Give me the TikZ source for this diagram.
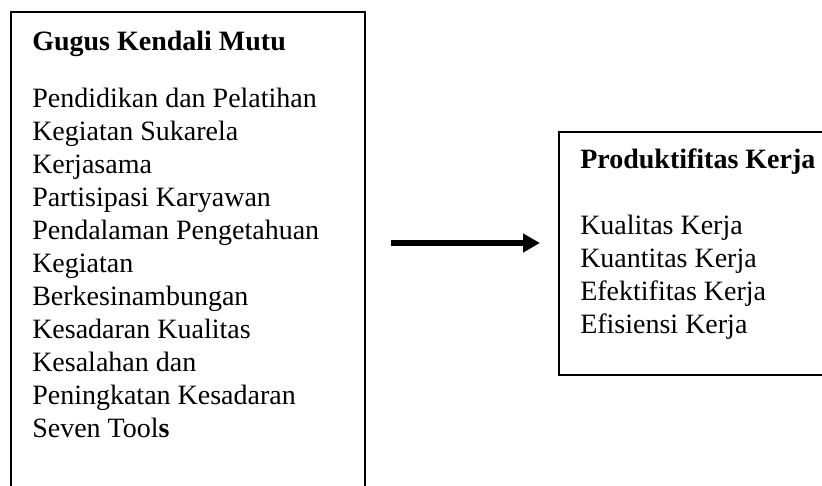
\documentclass[tikz,border=0pt]{standalone}
\usepackage{fontspec}
\setmainfont{Liberation Serif}
\usetikzlibrary{arrows.meta}

\tikzset{
  frameline/.style={line width=1.9pt, black},
  boxtext/.style={anchor=north west, inner sep=0pt, align=left,
    font=\fontsize{21}{24.8}\selectfont},
  flowarrow/.style={line width=4pt, -{Triangle[length=12.75pt, width=13.5pt]}}
}

\begin{document}
\begin{tikzpicture}[x=0.75pt,y=0.75pt,yscale=-1,xscale=1]
		% Fix page size to the 822 x 486 frame
		\useasboundingbox (0,0) rectangle (822,486);

		% Left frame (open at the bottom edge of the page)
		\draw[frameline] (11,486) -- (11,12) -- (365,12) -- (365,486);

		% Right frame (open at the right edge of the page)
		\draw[frameline] (822,132) -- (559,132) -- (559,375) -- (822,375);

		% Title of the left frame
		\node[boxtext] (gkmtitle) at (32,31) {\textbf{Gugus Kendali Mutu}};

		% Items of the left frame
		\node[boxtext] (gkmitems) at (32,87.5) {Pendidikan dan Pelatihan\\
			Kegiatan Sukarela\\
			Kerjasama\\
			Partisipasi Karyawan\\
			Pendalaman Pengetahuan\\
			Kegiatan\\
			Berkesinambungan\\
			Kesadaran Kualitas\\
			Kesalahan dan\\
			Peningkatan Kesadaran\\
			Seven Tool\textbf{s}};

		% Title of the right frame
		\node[boxtext] (pktitle) at (580,149) {\textbf{Produktifitas Kerja}};

		% Items of the right frame
		\node[boxtext] (pkitems) at (580,215) {Kualitas Kerja\\
			Kuantitas Kerja\\
			Efektifitas Kerja\\
			Efisiensi Kerja};

		% Arrow between the two frames
		\coordinate (arrowstart) at (391,243);
		\coordinate (arrowend) at (540,243);
		\draw[flowarrow] (arrowstart) -- (arrowend);
	\end{tikzpicture}
\end{document}
